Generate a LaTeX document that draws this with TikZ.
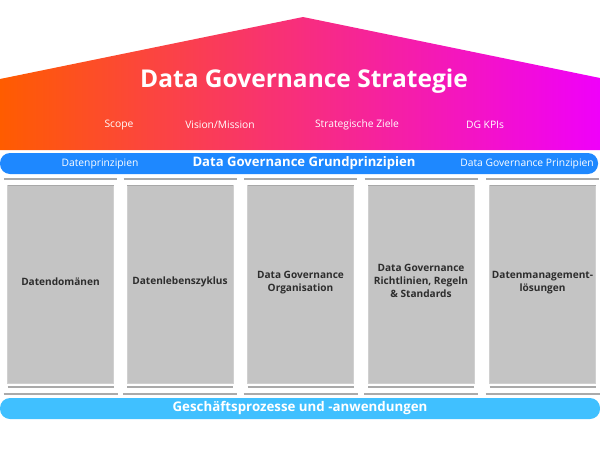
\documentclass[tikz,border=0pt]{standalone}
\usepackage{fontspec}
\setmainfont{Open Sans}
\definecolor{roofL}{RGB}{255,92,0}
\definecolor{roofR}{RGB}{240,0,250}
\definecolor{bandTop}{RGB}{30,136,255}
\definecolor{bandBot}{RGB}{64,192,255}
\definecolor{pillar}{RGB}{196,196,196}
\definecolor{pillarEdge}{RGB}{168,168,168}
\definecolor{slab}{RGB}{170,170,170}
\definecolor{labelTxt}{RGB}{45,45,45}
\tikzset{
  sub/.style={text=white, font=\fontsize{10.3}{12}\selectfont},
  plabel/.style={text=labelTxt, font=\bfseries\fontsize{10.1}{12.8}\selectfont, align=center},
  slabline/.style={draw=slab, line width=2pt},
  pillarbox/.style={fill=pillar, draw=pillar!80!white, line width=0.6pt},
}
\begin{document}
\begin{tikzpicture}[x=1pt,y=-1pt]
\useasboundingbox (0,0) rectangle (600,450);
% roof
\path[left color=roofL, right color=roofR]
  (0,150) -- (0,79) -- (303,17) -- (600,78) -- (600,150) -- cycle;
\node[text=white, font=\bfseries\fontsize{24.5}{28}\selectfont] (title) at (304,81.5) {Data Governance Strategie};
\node[sub] (scope) at (119,125) {Scope};
\node[sub] (vision) at (220,125) {Vision/Mission};
\node[sub] (ziele) at (357,125) {Strategische Ziele};
\node[sub] (kpi) at (485,125) {DG KPIs};
% top band
\fill[bandTop, rounded corners=10pt] (0,153) rectangle (598,174);
\node[sub] (dp) at (100,163.5) {Datenprinzipien};
\node[text=white, font=\bfseries\fontsize{13.1}{16}\selectfont] (grund) at (304,163.5) {Data Governance Grundprinzipien};
\node[sub] (dgp) at (527,163.5) {Data Governance Prinzipien};
% pillars
\foreach \c/\n in {60.5/1,180/2,300.5/3,421/4,542.5/5}{
  \draw[slabline] (\c-56.5,179) -- (\c+56.5,179);
  \path[pillarbox] (\c-53,185) rectangle (\c+53,383);
  \draw[pillarEdge, line width=1.2pt] (\c-53,185.5) -- (\c+53,185.5);
  \draw[slabline] (\c-53,386.5) -- (\c+53,386.5);
  \draw[slabline] (\c-57,393.5) -- (\c+57,393.5);
}
\node[plabel] (p1) at (60.5,282) {Datendomänen};
\node[plabel] (p2) at (180,282) {Datenlebenszyklus};
\node[plabel] (p3) at (300.5,282.5) {Data Governance\\Organisation};
\node[plabel] (p4) at (421,281) {Data Governance\\Richtlinien, Regeln\\\& Standards};
\node[plabel] (p5) at (542.5,282.5) {Datenmanagement-\\lösungen};
% bottom band
\fill[bandBot, rounded corners=10pt] (0,398) rectangle (600,419);
\node[text=white, font=\bfseries\fontsize{13.3}{16}\selectfont] (base) at (300,408.5) {Geschäftsprozesse und -anwendungen};
\end{tikzpicture}
\end{document}
